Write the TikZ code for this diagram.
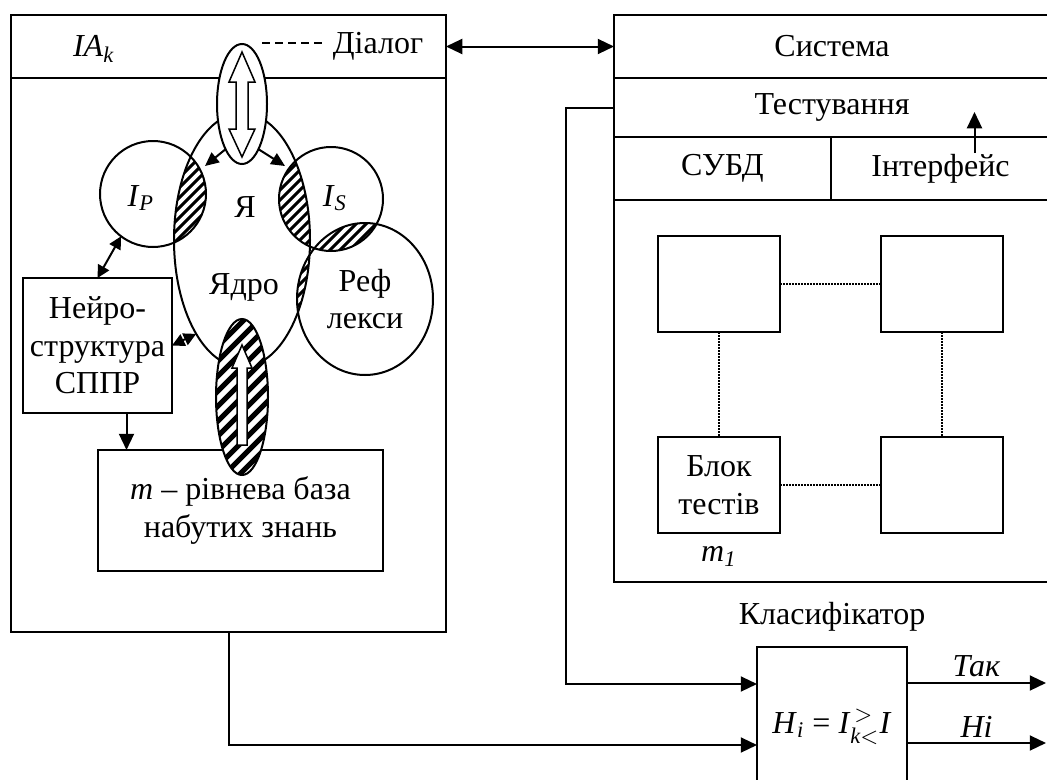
\documentclass[tikz,border=0pt]{standalone}
\usepackage{amsmath}
\usepackage{fontspec}
\setmainfont{Liberation Serif}
\usetikzlibrary{arrows.meta, positioning, calc, shapes.geometric}

\newcommand{\pxu}{0.4pt}
% diagonal stripes round a named point, inside the current clip
\newcommand{\hatchat}[3]{%
  \foreach \i in {-16,...,16}
    \draw[line width=#3] ($(#1)+(\i*#2-110,110)$) -- ($(#1)+(\i*#2+110,-110)$);}

\begin{document}
\begin{tikzpicture}[
    x=0.4pt, y=-0.4pt,
    font=\fontsize{12.8}{15}\selectfont,
    line width=0.8pt,
    box/.style={draw, rectangle, inner sep=0pt, outer sep=0pt, align=center},
    txt/.style={inner sep=2pt, align=center},
    blob/.style={draw, ellipse, inner sep=0pt, outer sep=0pt, align=center},
    ring/.style={draw, circle, inner sep=0pt, outer sep=0pt},
    arrow/.style={-{Triangle[length=6.5pt, width=6pt]}},
    darrow/.style={{Triangle[length=6.5pt, width=6pt]}-{Triangle[length=6.5pt, width=6pt]}},
    sarrow/.style={-{Triangle[length=5.5pt, width=5pt]}},
    dsarrow/.style={{Triangle[length=5pt, width=5pt]}-{Triangle[length=5pt, width=5pt]}},
    link/.style={dash pattern=on 0.6pt off 0.6pt, line width=0.5pt},
    hollow/.style={draw, fill=white, line width=0.6pt}
]
\useasboundingbox (0,0) rectangle (1047,780);

% ================= Left (agent IA_k) =================
\node[box, minimum width=435*\pxu, minimum height=63*\pxu] (agenthead) at (228.5,46.5) {};
\node[box, below=0pt of agenthead, minimum width=435*\pxu, minimum height=554*\pxu] (agent) {};
\node[txt] (iak) at (94,49) {\textit{IA}\textsubscript{\textit{k}}};
\node[txt] (dialog) at (378,46) {Діалог};

% centres of the core and its neighbours
\coordinate (pcore) at (242,240);
\coordinate (pip) at (153,194);
\coordinate (pis) at (331,199);
\coordinate (prefl) at (365,299);

% hatched overlaps
\begin{scope}
  \clip (pcore) ellipse [x radius=68, y radius=127];
  \clip (pip) circle [radius=53];
  \hatchat{pip}{10}{1.2pt}
\end{scope}
\begin{scope}
  \clip (pcore) ellipse [x radius=68, y radius=127];
  \clip (pis) circle [radius=52];
  \hatchat{pis}{10}{1.2pt}
\end{scope}
\begin{scope}
  \clip (prefl) ellipse [x radius=68, y radius=76];
  \clip (pis) circle [radius=52];
  \hatchat{pis}{10}{1.2pt}
\end{scope}
\begin{scope}
  \clip (prefl) ellipse [x radius=68, y radius=76];
  \clip (pcore) ellipse [x radius=68, y radius=127];
  \hatchat{prefl}{10}{1.2pt}
\end{scope}

\node[blob, minimum width=136*\pxu, minimum height=254*\pxu] (core) at (pcore) {};
\node[ring, minimum size=106*\pxu] (ip) at (pip) {};
\node[ring, minimum size=104*\pxu] (is) at (pis) {};
\node[blob, minimum width=136*\pxu, minimum height=152*\pxu] (refl) at (prefl) {Реф\\лекси};

\node[txt] (ipl) at (141,198) {\textit{I}\textsubscript{\textit{P}}};
\node[txt] (isl) at (335,198) {\textit{I}\textsubscript{\textit{S}}};
\node[txt] (ya) at (245,207) {Я};
\node[txt] (yadro) at (244,287) {Ядро};

% dialogue ellipse
\node[blob, fill=white, minimum width=50*\pxu, minimum height=120*\pxu] (topell) at (242,104) {};
\draw[hollow] (242,52) -- (255,82) -- (248,82) -- (248,129) -- (255,129) -- (242,157)
  -- (229,129) -- (236,129) -- (236,82) -- (229,82) -- cycle;
\coordinate (dstart) at (262,43);
\draw[dash pattern=on 3.2pt off 2pt, line width=0.6pt] (dstart) -- (dstart -| dialog.west);

\coordinate (ipin) at (205,166);
\coordinate (isin) at (285,166);
\draw[sarrow] (topell.250) -- (ipin);
\draw[sarrow] (topell.290) -- (isin);

% decision support net and knowledge base
\node[box, minimum width=149*\pxu, minimum height=135*\pxu] (neuro) at (97.5,345.5) {Нейро-\\структура\\СППР};
\node[box, minimum width=285*\pxu, minimum height=121*\pxu] (base) at (240.5,510.5)
  {\textit{m} – рівнева база\\набутих знань};

\draw[dsarrow] (neuro.north) -- (ip.233);
\draw[dsarrow] (neuro.east) -- (core.244);
\coordinate (nd) at ([xshift=11.6pt]neuro.south);
\draw[arrow] (nd) -- (nd |- base.north);

% hatched lower ellipse
\begin{scope}
  \fill[white] (242,397) ellipse [x radius=26, y radius=78];
  \clip (242,397) ellipse [x radius=26, y radius=78];
  \hatchat{242,397}{15}{2pt}
\end{scope}
\node[blob, minimum width=52*\pxu, minimum height=156*\pxu] (botell) at (242,397) {};
\draw[hollow] (242,345) -- (252,368) -- (247,368) -- (247,445) -- (237,445) -- (237,368)
  -- (232,368) -- cycle;

% ================= Right (system) =================
\node[box, minimum width=436*\pxu, minimum height=63*\pxu] (syshead) at (832,46.5) {Система};
\node[box, below=0pt of syshead, minimum width=436*\pxu, minimum height=59*\pxu] (test) {Тестування};
\node[box, anchor=north west, minimum width=217*\pxu, minimum height=63*\pxu] (dbms) at (test.south west) {СУБД};
\node[box, anchor=north west, minimum width=219*\pxu, minimum height=63*\pxu] (iface) at (dbms.north east) {Інтерфейс};
\node[box, anchor=north west, minimum width=436*\pxu, minimum height=382*\pxu] (sysbody) at (dbms.south west) {};

\coordinate (ifup) at ($(iface.north)+(34,16)$);
\draw[arrow] (ifup) -- ++(0,-41);

\node[box, minimum width=122*\pxu, minimum height=96*\pxu] (b1) at (719,284) {};
\node[box, right=40.4pt of b1, minimum width=122*\pxu, minimum height=96*\pxu] (b2) {};
\node[box, below=42pt of b1, minimum width=122*\pxu, minimum height=96*\pxu] (tb) {Блок\\тестів};
\node[box, below=42pt of b2, minimum width=122*\pxu, minimum height=96*\pxu] (b4) {};
\node[txt, below=3pt of tb] (m1) {\textit{m}\textsubscript{\textit{1}}};

\draw[link] (b1) -- (b2);
\draw[link] (tb) -- (b4);
\draw[link] (b1) -- (tb);
\draw[link] (b2) -- (b4);

% ================= Classifier =================
\node[box, minimum width=150*\pxu, minimum height=160*\pxu] (clas) at (832,727)
  {\textit{H}$_{\textit{i}}$ = \textit{I}$^{\,>}_{\textit{k}<}$\textit{I}};
\node[txt, above=4pt of clas] (clasl) {Класифікатор};

\coordinate (in1) at ([yshift=17.2pt]clas.west);
\coordinate (in2) at ([yshift=-7.2pt]clas.west);
\coordinate (yes) at (1046,683);
\coordinate (no) at (1046,743);

\draw[darrow] (agenthead.east) -- (syshead.west);
\draw[arrow] (test.west) -- ++(-48,0) |- (in1);
\draw[arrow] (agent.south) |- (in2);
\draw[arrow] (clas.east |- yes) -- node[txt, above] (yesl) {\textit{Так}} (yes);
\draw[arrow] (clas.east |- no) -- node[txt, above] (nol) {\textit{Ні}} (no);

\end{tikzpicture}
\end{document}
